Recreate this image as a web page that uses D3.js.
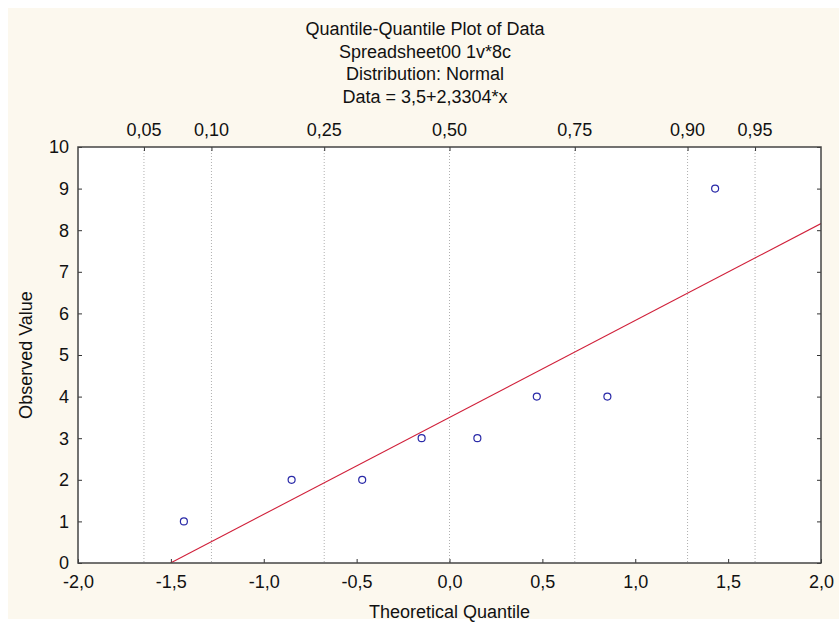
<!DOCTYPE html>
<html>
<head>
<meta charset="utf-8">
<script src="https://cdn.jsdelivr.net/npm/d3@7"></script>
<style>
  body { margin: 0; background: #fff; }
  text { font-family: "Liberation Sans", Arial, sans-serif; fill: #111; }
</style>
</head>
<body>
<div id="chart"></div>
<script>
// data
var titleLines = ["Quantile-Quantile Plot of Data", "Spreadsheet00 1v*8c", "Distribution: Normal", "Data = 3,5+2,3304*x"]
var theoretical = [-1.43, -0.85, -0.47, -0.15, 0.15, 0.47, 0.85, 1.43]
var observed = [1, 2, 2, 3, 3, 4, 4, 9]
var probLabels = ["0,05", "0,10", "0,25", "0,50", "0,75", "0,90", "0,95"]
var probQuantiles = [-1.645, -1.2816, -0.6745, 0, 0.6745, 1.2816, 1.645]
var xTicks = [-2, -1.5, -1, -0.5, 0, 0.5, 1, 1.5, 2]
var yTicks = [0, 1, 2, 3, 4, 5, 6, 7, 8, 9, 10]
var fitIntercept = 3.5
var fitSlope = 2.3304

var svgWdth = 839
var svgHt = 622
var margin = { top: 147, right: 18, bottom: 59, left: 78 }
var width = svgWdth - margin.left - margin.right
var height = svgHt - margin.top - margin.bottom
var tickLen = 4
var fontSz = 18

var fmt = function(v) { return d3.format(".1f")(v).replace(".", ",").replace("−", "-") }

var svg = d3.select("#chart").append("svg")
    .attr("width", svgWdth)
    .attr("height", svgHt)

// cream panel
svg.append("rect")
    .attr("x", 8).attr("y", 8)
    .attr("width", svgWdth - 8).attr("height", svgHt - 11)
    .attr("fill", "#fcf8ee")

// titles
svg.selectAll(".title").data(titleLines).enter().append("text")
    .attr("class", "title")
    .attr("x", 425)
    .attr("y", function(d, i) { return 35 + i * 22.5 })
    .attr("text-anchor", "middle")
    .style("font-size", fontSz + "px")
    .text(function(d) { return d })

var x = d3.scaleLinear().domain([-2, 2]).range([0, width])
var y = d3.scaleLinear().domain([0, 10]).range([height, 0])

var chartGroup = svg.append("g")
    .attr("transform", `translate(${margin.left}, ${margin.top})`)

chartGroup.append("rect")
    .attr("width", width).attr("height", height)
    .attr("fill", "#fff")

chartGroup.append("defs").append("clipPath").attr("id", "clip")
    .append("rect").attr("width", width).attr("height", height)

// dotted probability lines
chartGroup.selectAll(".pline").data(probQuantiles).enter().append("line")
    .attr("class", "pline")
    .attr("x1", function(d) { return x(d) }).attr("x2", function(d) { return x(d) })
    .attr("y1", 0).attr("y2", height)
    .attr("stroke", "#b0b0b0")
    .attr("stroke-width", 1)
    .attr("stroke-dasharray", "1,2")

// axes (ticks inside)
var bottomAxis = d3.axisTop(x).tickValues(xTicks).tickSize(tickLen).tickFormat(fmt)
var leftAxis = d3.axisRight(y).tickValues(yTicks).tickSize(tickLen).tickFormat("")
var rightAxis = d3.axisLeft(y).tickValues(yTicks).tickSize(tickLen).tickFormat("")
var topAxis = d3.axisBottom(x).tickValues(probQuantiles).tickSize(tickLen).tickFormat("")

var xAxisG = chartGroup.append("g").attr("transform", `translate(0, ${height})`).call(bottomAxis)
xAxisG.selectAll("text").attr("y", 25).attr("dy", 0).style("font-size", fontSz + "px")
chartGroup.append("g").call(leftAxis)
chartGroup.append("g").attr("transform", `translate(${width}, 0)`).call(rightAxis)
chartGroup.append("g").call(topAxis)

chartGroup.selectAll(".domain").remove()
chartGroup.selectAll(".tick line").attr("stroke", "#333")

// y tick labels
chartGroup.selectAll(".ylab").data(yTicks).enter().append("text")
    .attr("class", "ylab")
    .attr("x", -9)
    .attr("y", function(d) { return y(d) })
    .attr("dy", "0.35em")
    .attr("text-anchor", "end")
    .style("font-size", fontSz + "px")
    .text(function(d) { return d })

// probability labels on top
chartGroup.selectAll(".plab").data(probQuantiles).enter().append("text")
    .attr("class", "plab")
    .attr("x", function(d) { return x(d) })
    .attr("y", -11)
    .attr("text-anchor", "middle")
    .style("font-size", fontSz + "px")
    .text(function(d, i) { return probLabels[i] })

// fitted line
var x0 = (0 - fitIntercept) / fitSlope
chartGroup.append("line")
    .attr("clip-path", "url(#clip)")
    .attr("x1", x(x0)).attr("y1", y(fitIntercept + fitSlope * x0))
    .attr("x2", x(2)).attr("y2", y(fitIntercept + fitSlope * 2))
    .attr("stroke", "#d0203a")
    .attr("stroke-width", 1.1)

// points
chartGroup.selectAll(".pt").data(observed).enter().append("circle")
    .attr("class", "pt")
    .attr("cx", function(d, i) { return x(theoretical[i]) })
    .attr("cy", function(d) { return y(d) })
    .attr("r", 3.5)
    .attr("fill", "none")
    .attr("stroke", "#2a2aa8")
    .attr("stroke-width", 1.2)

// frame
chartGroup.append("rect")
    .attr("width", width).attr("height", height)
    .attr("fill", "none")
    .attr("stroke", "#444")
    .attr("stroke-width", 1.5)

// axis titles
svg.append("text")
    .attr("x", margin.left + width / 2)
    .attr("y", 618)
    .attr("text-anchor", "middle")
    .style("font-size", fontSz + "px")
    .text("Theoretical Quantile")

svg.append("text")
    .attr("transform", `translate(32, ${margin.top + height / 2})rotate(-90)`)
    .attr("text-anchor", "middle")
    .style("font-size", fontSz + "px")
    .text("Observed Value")
</script>
</body>
</html>
